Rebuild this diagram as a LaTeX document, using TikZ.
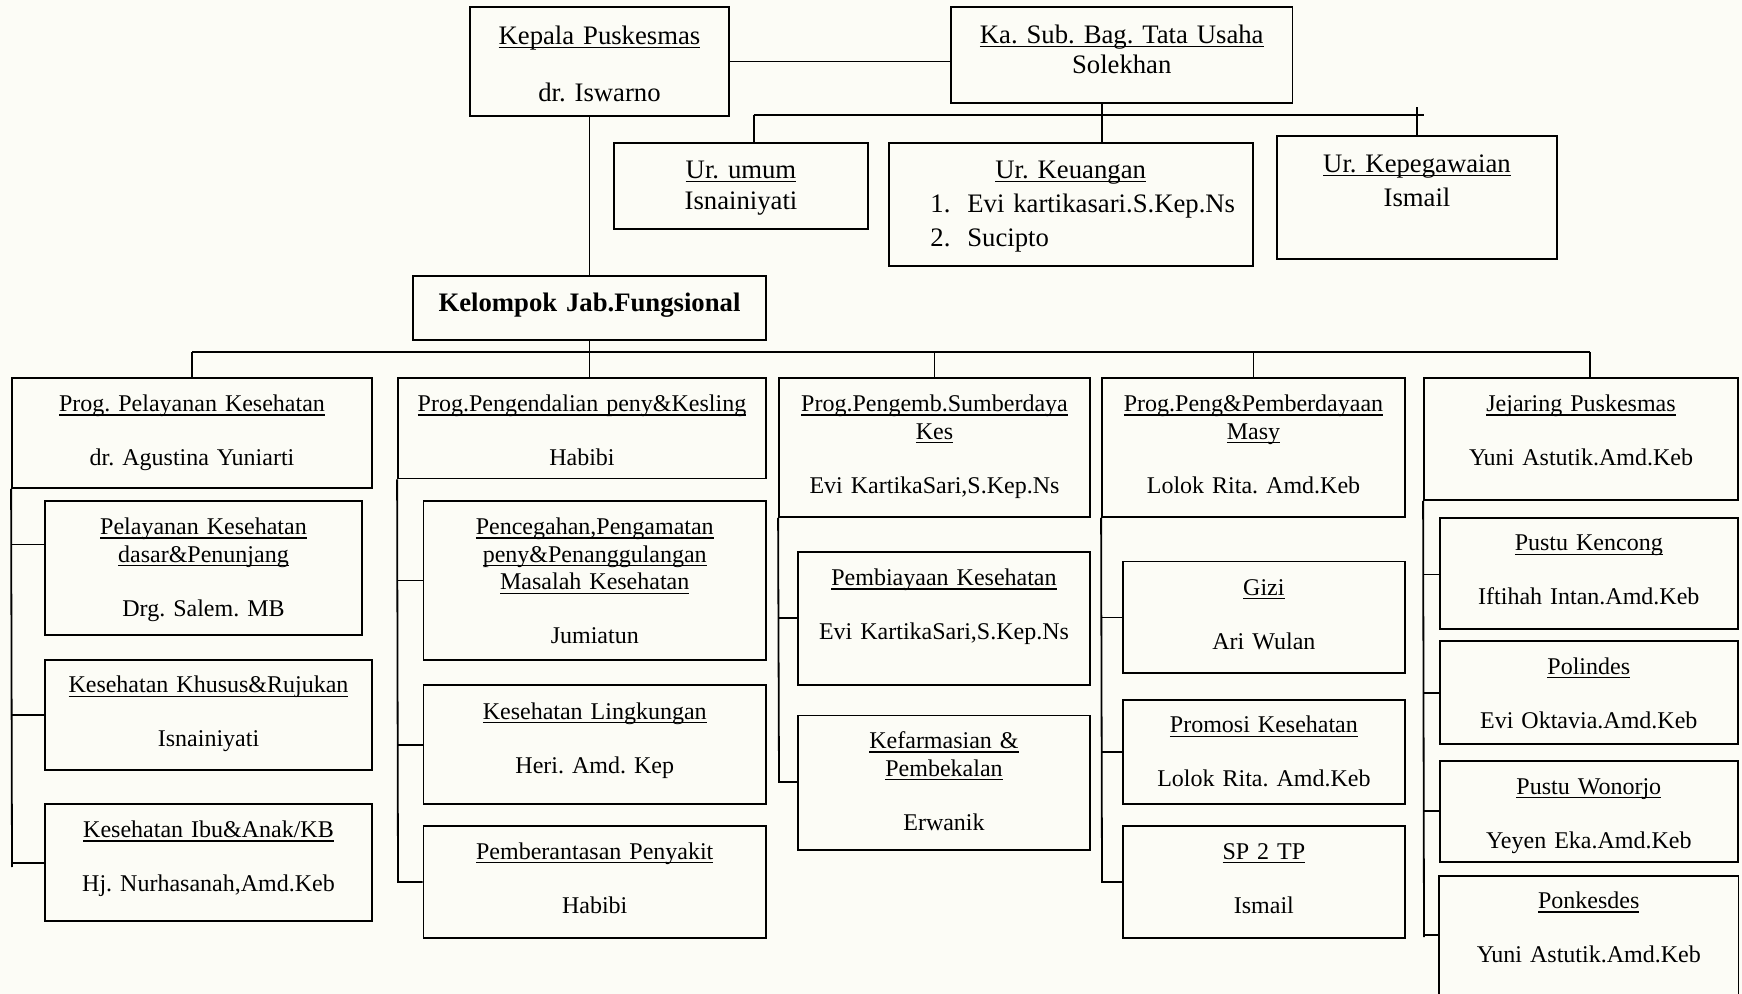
\documentclass[tikz,border=0pt]{standalone}
\usepackage{fontspec}
\setmainfont{Liberation Serif}
\usetikzlibrary{fit}
\definecolor{paper}{RGB}{252,252,246}
\frenchspacing
% underline at a fixed depth below the baseline
\newcommand\uln[1]{\leavevmode\setbox0=\hbox{#1}\rlap{\rule[-2pt]{\wd0}{0.7pt}}\box0}
\begin{document}
\begin{tikzpicture}[x=0.5pt,y=-0.5pt,
  box/.style={draw, line width=0.9pt, inner sep=0pt, fill=paper},
  link/.style={line width=0.9pt},
  txt/.style={text width=220pt, align=center, anchor=base, inner sep=0pt},
  big/.style={font=\fontsize{13.35}{15}\selectfont},
  small/.style={font=\fontsize{12}{13.8}\selectfont}]

\fill[paper] (0,0) rectangle (1742,994);
\useasboundingbox (0,0) rectangle (1742,994);

% ---------- head office ----------
\node[box, fit={(470,7.3) (729,115.7)}] (kep) {};
\node[txt, big] (kepT) at (599.5,44.5) {\uln{Kepala Puskesmas}\\[13.35pt]dr. Iswarno};

\node[box, fit={(951,7.3) (1292.5,102.7)}] (ksb) {};
\node[txt, big] (ksbT) at (1121.75,43.5) {\uln{Ka. Sub. Bag. Tata Usaha}\\Solekhan};

\node[box, fit={(614,142.7) (868,229.3)}] (umum) {};
\node[txt, big] (umumT) at (741,178.5) {\uln{Ur. umum}\\[0.75pt]Isnainiyati};

\node[box, fit={(888.7,142.7) (1252.7,266)}] (keu) {};
\node[txt, big] (keuT) at (1070.7,178.5) {\uln{Ur. Keuangan}};
\node[anchor=base west, text width=170pt, align=left, inner sep=0pt,
      font=\fontsize{13.35}{17.2}\selectfont] (keuL) at (930,212.3)
  {\makebox[18.5pt][l]{1.}Evi kartikasari.S.Kep.Ns\\\makebox[18.5pt][l]{2.}Sucipto};

\node[box, fit={(1276.6,135.7) (1557,259)}] (kpg) {};
\node[txt, big] (kpgT) at (1417,172.5) {\uln{Ur. Kepegawaian}\\[2.15pt]Ismail};

\node[box, fit={(413,276) (765.8,340)}] (kel) {};
\node[txt, big] (kelT) at (589.5,311.5) {\bfseries Kelompok Jab.Fungsional};

% ---------- column 1 ----------
\node[box, fit={(12,378) (372,488)}] (c1h) {};
\node[txt, small] (c1hT) at (192,411.7) {\uln{Prog. Pelayanan Kesehatan}\\[13.2pt]dr. Agustina Yuniarti};
\node[box, fit={(45,501) (362,635)}] (c1s1) {};
\node[txt, small] (c1s1T) at (203.5,534.8) {\uln{Pelayanan Kesehatan}\\\uln{dasar\&Penunjang}\\[13.2pt]Drg. Salem. MB};
\node[box, fit={(45,660) (372,770)}] (c1s2) {};
\node[txt, small] (c1s2T) at (208.5,693) {\uln{Kesehatan Khusus\&Rujukan}\\[13.2pt]Isnainiyati};
\node[box, fit={(45,804) (372,921)}] (c1s3) {};
\node[txt, small] (c1s3T) at (208.5,837.6) {\uln{Kesehatan Ibu\&Anak/KB}\\[13.2pt]Hj. Nurhasanah,Amd.Keb};

% ---------- column 2 ----------
\node[box, fit={(398,378) (766,478.6)}] (c2h) {};
\node[txt, small] (c2hT) at (582,411.7) {\uln{Prog.Pengendalian peny\&Kesling}\\[13.2pt]Habibi};
\node[box, fit={(423.5,501) (766,660)}] (c2s1) {};
\node[txt, small] (c2s1T) at (594.75,534.8) {\uln{Pencegahan,Pengamatan}\\\uln{peny\&Penanggulangan}\\\uln{Masalah Kesehatan}\\[13.2pt]Jumiatun};
\node[box, fit={(423.5,685) (766,804)}] (c2s2) {};
\node[txt, small] (c2s2T) at (594.75,719) {\uln{Kesehatan Lingkungan}\\[13.2pt]Heri. Amd. Kep};
\node[box, fit={(423.5,825.6) (766,938)}] (c2s3) {};
\node[txt, small] (c2s3T) at (594.75,859) {\uln{Pemberantasan Penyakit}\\[13.2pt]Habibi};

% ---------- column 3 ----------
\node[box, fit={(779,378) (1090,517)}] (c3h) {};
\node[txt, small] (c3hT) at (934.5,411.7) {\uln{Prog.Pengemb.Sumberdaya}\\\uln{Kes}\\[13.2pt]Evi KartikaSari,S.Kep.Ns};
\node[box, fit={(798,552.3) (1090,685)}] (c3s1) {};
\node[txt, small] (c3s1T) at (944,585.8) {\uln{Pembiayaan Kesehatan}\\[13.2pt]Evi KartikaSari,S.Kep.Ns};
\node[box, fit={(798,715.5) (1090,850)}] (c3s2) {};
\node[txt, small] (c3s2T) at (944,748.6) {\uln{Kefarmasian \&}\\\uln{Pembekalan}\\[13.2pt]Erwanik};

% ---------- column 4 ----------
\node[box, fit={(1102,378) (1405,517)}] (c4h) {};
\node[txt, small] (c4hT) at (1253.5,411.7) {\uln{Prog.Peng\&Pemberdayaan}\\\uln{Masy}\\[13.2pt]Lolok Rita. Amd.Keb};
\node[box, fit={(1122.8,561.6) (1405,673)}] (c4s1) {};
\node[txt, small] (c4s1T) at (1263.9,595.5) {\uln{Gizi}\\[13.2pt]Ari Wulan};
\node[box, fit={(1122.8,700) (1405,804)}] (c4s2) {};
\node[txt, small] (c4s2T) at (1263.9,733) {\uln{Promosi Kesehatan}\\[13.2pt]Lolok Rita. Amd.Keb};
\node[box, fit={(1122.8,825.6) (1405,938)}] (c4s3) {};
\node[txt, small] (c4s3T) at (1263.9,859) {\uln{SP 2 TP}\\[13.2pt]Ismail};

% ---------- column 5 ----------
\node[box, fit={(1424,378) (1738,500)}] (c5h) {};
\node[txt, small] (c5hT) at (1581,411.7) {\uln{Jejaring Puskesmas}\\[13.2pt]Yuni Astutik.Amd.Keb};
\node[box, fit={(1439.6,518) (1738,629)}] (c5s1) {};
\node[txt, small] (c5s1T) at (1588.8,551) {\uln{Pustu Kencong}\\[13.2pt]Iftihah Intan.Amd.Keb};
\node[box, fit={(1439.6,641) (1738,744)}] (c5s2) {};
\node[txt, small] (c5s2T) at (1588.8,674.5) {\uln{Polindes}\\[13.2pt]Evi Oktavia.Amd.Keb};
\node[box, fit={(1439.6,760.8) (1738,862)}] (c5s3) {};
\node[txt, small] (c5s3T) at (1588.8,794) {\uln{Pustu Wonorjo}\\[13.2pt]Yeyen Eka.Amd.Keb};
% last box runs past the lower edge: no bottom side
\node[fit={(1439.6,876) (1738,1000)}, inner sep=0pt] (c5s4) {};
\draw[link] (c5s4.south west) -- (c5s4.north west) -- (c5s4.north east) -- (c5s4.south east);
\node[txt, small] (c5s4T) at (1588.8,908.5) {\uln{Ponkesdes}\\[13.2pt]Yuni Astutik.Amd.Keb};

% ---------- upper connectors ----------
\draw[link] (kep.east) -- (kep.east -| ksb.west);
\draw[link] (kep.south -| kel.north) -- (kel.north);
\coordinate (tuL) at (753.7,115);
\coordinate (tuM) at (1102,115);
\coordinate (tuR) at (1424,115);
\draw[link] (tuL) -- (tuR);
\draw[link] (tuM |- ksb.south) -- (tuM |- keu.north);
\draw[link] (tuL) -- (tuL |- umum.north);
\draw[link] (kpg.north) -- ++(0,-27.7);

% ---------- functional bus ----------
\coordinate (busL) at (192,352);
\coordinate (busR) at (1590,352);
\draw[link] (busL) -- (busR);
\draw[link] (kel.south) -- (kel.south |- c2h.north);
\draw[link] (busL) -- (c1h.north);
\draw[link] (c3h.north |- busL) -- (c3h.north);
\draw[link] (c4h.north |- busL) -- (c4h.north);
\draw[link] (busR) -- (busR |- c5h.north);

% ---------- column spines and branches ----------
\coordinate (c1e) at (12,867);
\coordinate (c1b1) at (12,544.6);
\coordinate (c1b2) at (12,715);
\coordinate (c1b3) at (12,863);
\draw[link] (c1h.south west) -- (c1e);
\draw[link] (c1b1) -- (c1b1 -| c1s1.west);
\draw[link] (c1b2) -- (c1b2 -| c1s2.west);
\draw[link] (c1b3) -- (c1b3 -| c1s3.west);

\coordinate (c2b1) at (398,580.6);
\coordinate (c2b2) at (398,744.6);
\coordinate (c2b3) at (398,882);
\draw[link] (c2h.south west) -- (c2b3) -- (c2b3 -| c2s3.west);
\draw[link] (c2b1) -- (c2b1 -| c2s1.west);
\draw[link] (c2b2) -- (c2b2 -| c2s2.west);

\coordinate (c3b1) at (779,618.3);
\coordinate (c3b2) at (779,782);
\draw[link] (c3h.south west) -- (c3b2) -- (c3b2 -| c3s2.west);
\draw[link] (c3b1) -- (c3b1 -| c3s1.west);

\coordinate (c4b1) at (1102,617.5);
\coordinate (c4b2) at (1102,752);
\coordinate (c4b3) at (1102,882);
\draw[link] (c4h.south west) -- (c4b3) -- (c4b3 -| c4s3.west);
\draw[link] (c4b1) -- (c4b1 -| c4s1.west);
\draw[link] (c4b2) -- (c4b2 -| c4s2.west);

\coordinate (c5e) at (1424,937);
\coordinate (c5b1) at (1424,574.6);
\coordinate (c5b2) at (1424,693);
\coordinate (c5b3) at (1424,810.6);
\coordinate (c5b4) at (1424,935);
\draw[link] (c5h.south west) -- (c5e);
\draw[link] (c5b1) -- (c5b1 -| c5s1.west);
\draw[link] (c5b2) -- (c5b2 -| c5s2.west);
\draw[link] (c5b3) -- (c5b3 -| c5s3.west);
\draw[link] (c5b4) -- (c5b4 -| c5s4.west);
\end{tikzpicture}
\end{document}
